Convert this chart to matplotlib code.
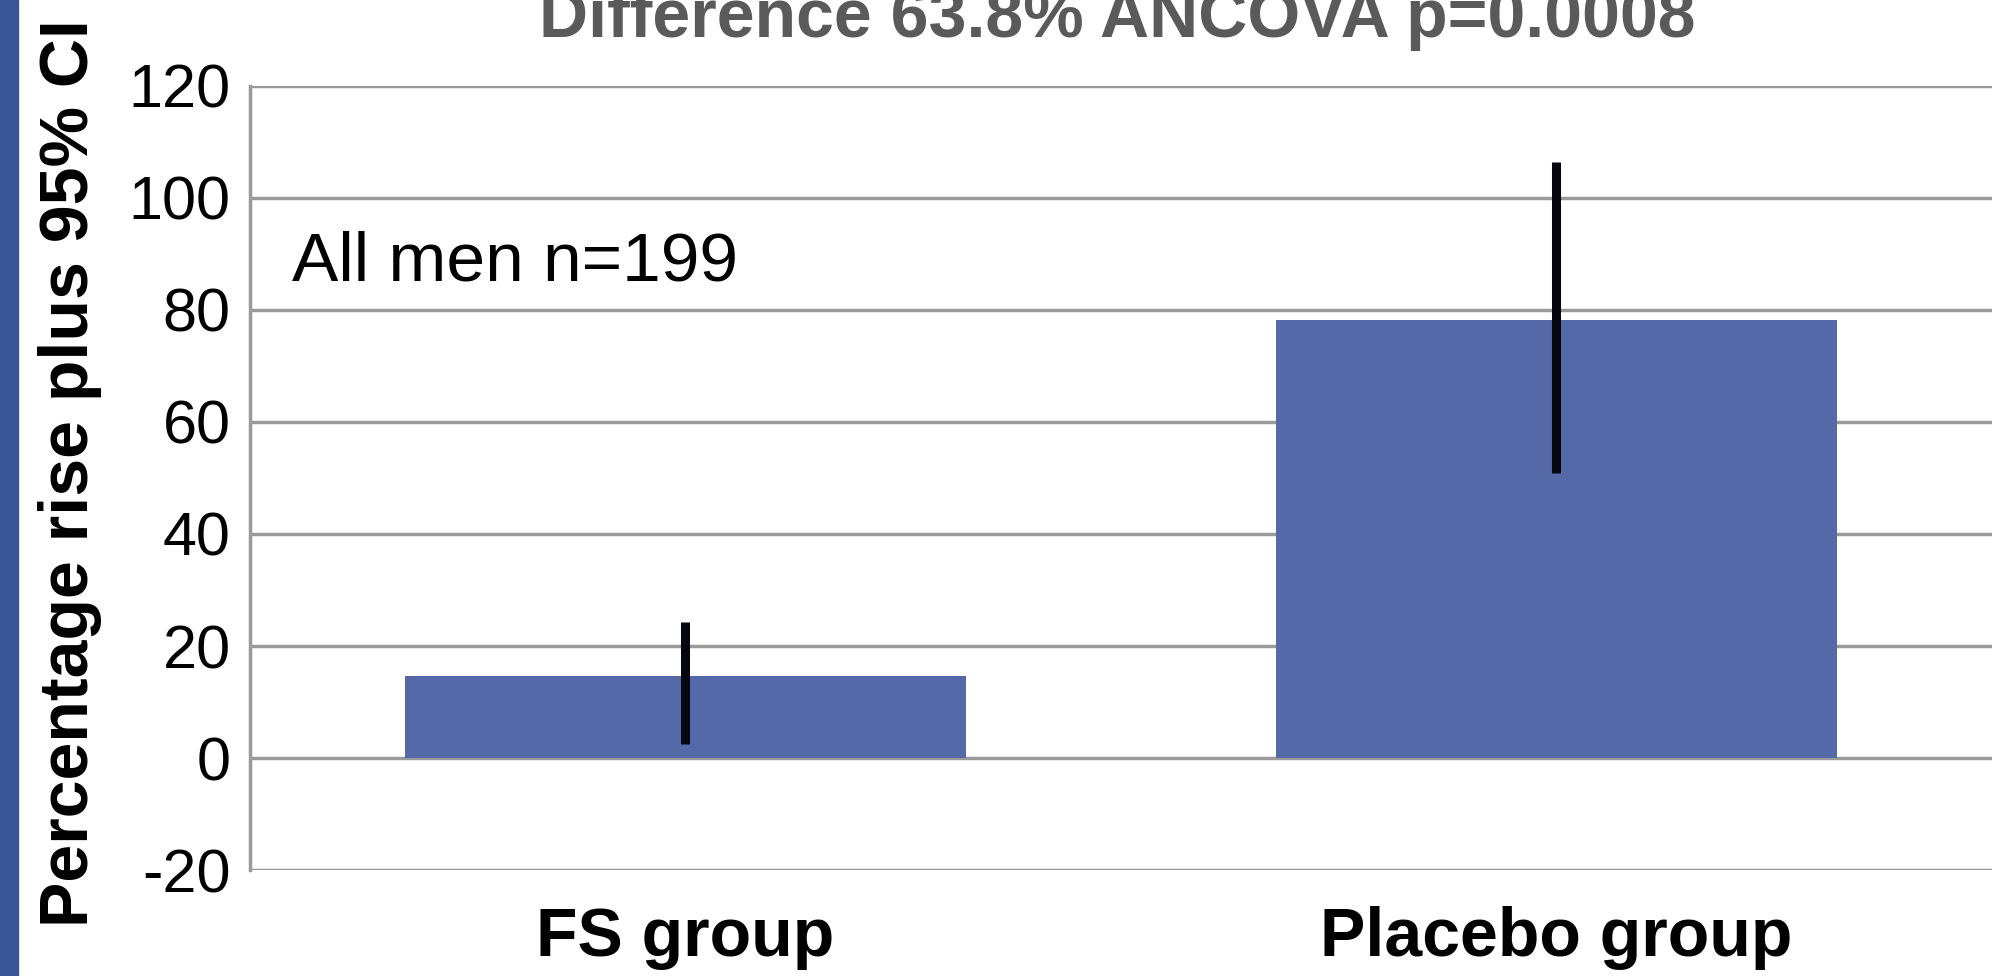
import matplotlib
matplotlib.use('Agg')
from matplotlib import pyplot as plt
import matplotlib.patches as patches

# Percentage rise with 95% CI, two groups
groups = ['FS group', 'Placebo group']
rise = [14.7, 78.3]
ci_low = [2.5, 50.9]
ci_high = [24.3, 106.5]

title = 'Difference 63.8% ANCOVA p=0.0008'
ylabel = 'Percentage rise plus 95% CI'
note = 'All men n=199'
yticks = [-20, 0, 20, 40, 60, 80, 100, 120]

plt.rcParams['font.family'] = ['Liberation Sans', 'DejaVu Sans']

fig = plt.figure(figsize=(19.92, 9.76), dpi=100)
ax = fig.add_axes([0.1255, 0.1086, 0.8745, 0.8033])

x = list(range(len(groups)))
ax.bar(x, rise, width=0.644, color='#5569a9', zorder=2)
err = [[r - lo for r, lo in zip(rise, ci_low)], [hi - r for r, hi in zip(rise, ci_high)]]
ax.errorbar(x, rise, yerr=err, fmt='none', ecolor='#05070f', elinewidth=6.5, capsize=0, zorder=3)

ax.set_xlim(-0.5, 1.5)
ax.set_ylim(-20, 120)
ax.set_yticks(yticks)
ax.set_yticklabels([str(t) for t in yticks], fontsize=44)
ax.set_xticks(x)
ax.set_xticklabels(groups, fontsize=49, fontweight='bold')
ax.tick_params(axis='y', length=0, pad=14)
ax.tick_params(axis='x', length=0, pad=26)
ax.yaxis.grid(True, color='#9a9a9a', linewidth=2.5, zorder=1)
ax.set_axisbelow(True)
for s in ['top', 'right', 'bottom']:
    ax.spines[s].set_visible(False)
ax.spines['left'].set_color('#9a9a9a')
ax.spines['left'].set_linewidth(2.5)

ax.text(-0.452, 88.5, note, fontsize=50, va='center', ha='left')

# title sits partly above the top edge, as in the source image
fig.text(0.561, 0.962, title, fontsize=49, fontweight='bold', color='#5a5a5a', ha='center', va='baseline')
fig.text(0.035, 0.515, ylabel, fontsize=49, fontweight='bold', rotation=90, ha='center', va='center')

# blue strip on the left edge
fig.patches.append(patches.Rectangle((0, 0), 18 / 1992, 1, transform=fig.transFigure, color='#3a5598', zorder=0))

fig.savefig('out.png', dpi=100)
